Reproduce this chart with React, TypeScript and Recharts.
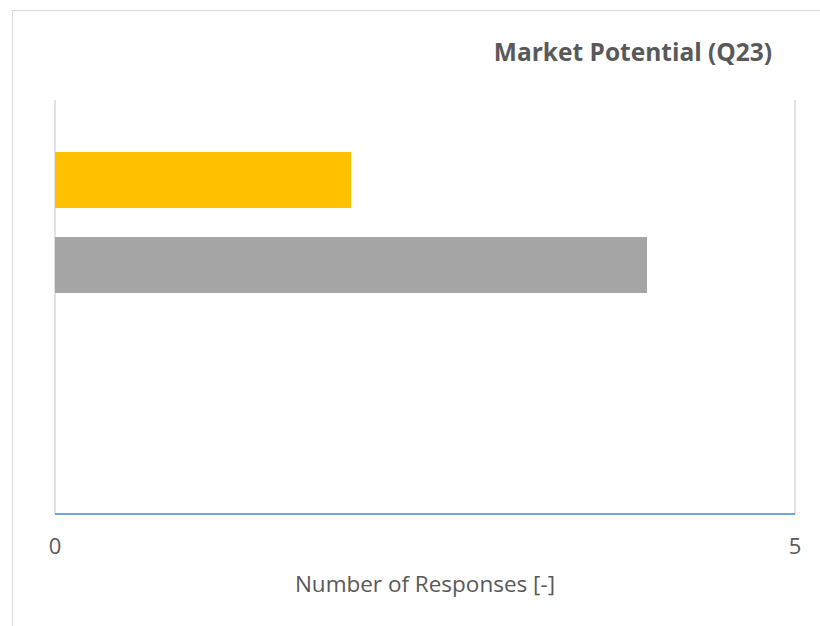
import React from "react";
import { BarChart, Bar, XAxis, YAxis, CartesianGrid } from "recharts";

const categories = ["Market Potential"];
const seriesNames = ["s1", "s2", "s3", "s4"];
const seriesValues = [2, 4, 0, 0];
const seriesColors = ["#FFC000", "#A5A5A5", "#4472C4", "#5B9BD5"];
const xTicks = [0, 5];

const data = categories.map((c) => {
  const row: Record<string, string | number> = { category: c };
  seriesNames.forEach((s, i) => {
    row[s] = seriesValues[i];
  });
  return row;
});

const FONT = "'Open Sans', 'Noto Sans', sans-serif";

export default function App() {
  return (
    <div style={{ position: "absolute", left: 0, top: 0, width: 820, height: 626, background: "#fff", overflow: "hidden" }}>
      <div
        style={{
          position: "absolute",
          left: 12,
          top: 10,
          width: 900,
          height: 700,
          borderTop: "1.5px solid #d9d9d9",
          borderLeft: "1.5px solid #d9d9d9",
        }}
      />
      <div
        style={{
          position: "absolute",
          left: 0,
          width: 633 * 2,
          top: 32,
          textAlign: "center",
          fontFamily: FONT,
          fontWeight: 700,
          fontSize: 24.5,
          color: "#595959",
          lineHeight: "40px",
        }}
      >
        Market Potential (Q23)
      </div>
      <div style={{ position: "absolute", left: 0, top: 0 }}>
        <BarChart
          width={820}
          height={626}
          data={data}
          layout="vertical"
          margin={{ top: 100, right: 25, bottom: 0, left: 55 }}
          barSize={56}
          barGap={29}
        >
          <CartesianGrid horizontal={false} vertical={true} stroke="#d9d9d9" strokeWidth={1.5} />
          <XAxis
            type="number"
            domain={[0, 5]}
            ticks={xTicks}
            interval={0}
            axisLine={{ stroke: "#6fa6dc", strokeWidth: 2 }}
            tickLine={false}
            tick={{ fill: "#595959", fontSize: 22, fontFamily: FONT }}
            tickMargin={18}
            height={112}
            label={{
              value: "Number of Responses [-]",
              position: "insideTop",
              offset: 62,
              fill: "#595959",
              fontSize: 22.5,
              fontFamily: FONT,
            }}
          />
          <YAxis type="category" dataKey="category" hide />
          {seriesNames.map((s, i) => (
            <Bar key={s} dataKey={s} fill={seriesColors[i]} isAnimationActive={false} />
          ))}
        </BarChart>
      </div>
    </div>
  );
}
